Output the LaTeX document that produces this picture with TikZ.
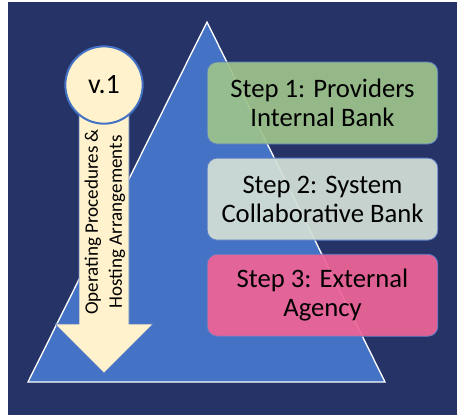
\documentclass[tikz,border=0pt]{standalone}
\usepackage{fontspec}
\setmainfont{Carlito}
\usetikzlibrary{positioning}
\definecolor{navy}{HTML}{253366}
\definecolor{triblue}{HTML}{4472C4}
\definecolor{cream}{HTML}{FFF2CC}
\definecolor{stepgreen}{HTML}{9DC38B}
\definecolor{stepgrey}{HTML}{D3DFD5}
\definecolor{steppink}{HTML}{EE6496}
\definecolor{edgeblue}{HTML}{5A7DC6}
\tikzset{every picture/.style={line width=0.6pt}}

\begin{document}
\begin{tikzpicture}[x=0.75pt,y=-0.75pt,
  stepbox/.style={draw=edgeblue,rounded corners=7.5pt,minimum width=173pt,minimum height=61.5pt,align=center,font=\fontsize{20}{22}\selectfont,fill opacity=0.93,text opacity=1}]
\useasboundingbox (0,0) rectangle (457,415);
\fill[navy] (8,2) rectangle (457,415);
% the pyramid
\draw[white,fill=triblue,line width=1pt] (28,382) -- (207,22) -- (385,382) -- cycle;
% down arrow under the version bubble
\draw[fill=cream,draw=edgeblue,line width=0.4pt] (79,110) -- (79,324) -- (55,324) -- (104,373) -- (153,324) -- (129,324) -- (129,110) -- cycle;
\node[rotate=90,align=center,font=\fontsize{14.3}{18}\selectfont] (ops) at (105,222) {Operating Procedures \&\\Hosting Arrangements};
\node[circle,draw=triblue,line width=1.5pt,fill=cream,minimum size=58pt,font=\fontsize{21}{22}\selectfont] (ver) at (104,85) {v.1};
% the three steps
\node[stepbox,fill=stepgreen] (s1) at (322.5,103) {Step 1: Providers\\Internal Bank};
\node[stepbox,fill=stepgrey,below=10pt of s1] (s2) {Step 2: System\\Collaborative Bank};
\node[stepbox,fill=steppink,below=10pt of s2] (s3) {Step 3: External\\Agency};
\end{tikzpicture}
\end{document}
